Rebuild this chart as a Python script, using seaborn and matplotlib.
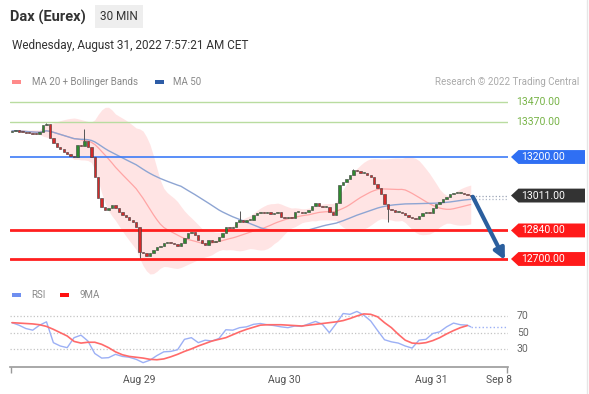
import numpy as np
import pandas as pd
import matplotlib.pyplot as plt
import seaborn as sns
from matplotlib.patches import Polygon, Rectangle
from matplotlib.transforms import blended_transform_factory

# 30 min closes, Dax future
closes = [13328, 13330, 13325, 13323, 13320, 13318, 13315, 13313, 13323, 13357,
          13362, 13293, 13269, 13249, 13240, 13225, 13215, 13205, 13200, 13259,
          13254, 13279, 13249, 13200, 13102, 12999, 12955, 12940, 12950, 12965,
          12950, 12931, 12916, 12906, 12891, 12881, 12857, 12734, 12730, 12715,
          12730, 12744, 12759, 12764, 12779, 12783, 12777, 12774, 12764, 12779,
          12803, 12828, 12833, 12818, 12793, 12779, 12769, 12793, 12784, 12789,
          12808, 12828, 12857, 12852, 12857, 12881, 12891, 12881, 12891, 12891,
          12916, 12926, 12930, 12924, 12928, 12921, 12925, 12929, 12906, 12901,
          12906, 12901, 12931, 12931, 12926, 12931, 12940, 12960, 12975, 12960,
          12955, 12955, 12931, 12916, 12975, 13063, 13078, 13093, 13112, 13137,
          13132, 13122, 13122, 13112, 13102, 13068, 13048, 13019, 12970, 12945,
          12940, 12931, 12931, 12926, 12916, 12906, 12901, 12896, 12911, 12926,
          12931, 12926, 12950, 12970, 12980, 12994, 13004, 13019, 13024, 13024,
          13024, 13019, 13014, 13011]
first_open = 13325
wick_high = {10: 13366, 21: 13338, 66: 12935, 99: 13142}
wick_low = {37: 12705, 109: 12882}

# RSI and its 9MA, sampled every second bar
rsi = [62, 59, 55, 53, 59, 63, 38, 34, 32, 44, 47, 40, 25, 19.5, 20, 24, 21.5,
       20.5, 18, 14, 17, 22.5, 27, 27.5, 29.5, 42, 44, 38, 41, 40, 43, 53.5, 53,
       56, 57, 60, 61, 59.5, 58.5, 57, 56, 58, 57.5, 60.5, 63.5, 60, 50, 61, 73,
       72, 75.5, 71, 64, 52.5, 41.5, 39, 37.5, 34, 31.5, 41, 42, 49, 51, 57, 61.5,
       59.5, 59]
rsi_ma = [62, 61.5, 61, 60.5, 59.5, 57.5, 54, 50, 46, 39.5, 37.5, 38.5, 38.5, 36,
          32, 27, 23.5, 21.5, 20.5, 19.5, 18, 17.5, 18.5, 21, 24, 27.5, 30.5, 34,
          37, 40, 42, 44, 47.5, 51, 54, 56.5, 59, 59.5, 59.5, 59.5, 59, 58.5, 58,
          59, 60, 61, 62, 63, 64.5, 67, 70, 72.5, 72, 69, 62, 56, 48, 41, 37.5, 37,
          38, 40.5, 44, 48.5, 52.5, 56, 58.5]
rsi_last = 57

levels = [13470, 13370, 13200, 12840, 12700]
level_colors = ['#b9dca0', '#b9dca0', '#3d7bf7', '#ff1f1f', '#ff1f1f']
level_widths = [1, 1, 1.2, 2, 2]
day_ticks = [37, 79, 121.6, 141.2]
day_labels = ['Aug 29', 'Aug 30', 'Aug 31', 'Sep 8']

df = pd.DataFrame({'close': closes})
df['open'] = [first_open] + closes[:-1]
df['bar'] = np.arange(len(df))
df['ma20'] = df['close'].rolling(20, min_periods=1).mean()
sd = df['close'].rolling(20, min_periods=1).std(ddof=0).fillna(0)
df['up'] = df['ma20'] + 2 * sd
df['lo'] = df['ma20'] - 2 * sd
df['ma50'] = df['close'].rolling(50, min_periods=1).mean()

sns.set_theme(style='white')
plt.rcParams['font.family'] = ['Roboto', 'DejaVu Sans']

fig = plt.figure(figsize=(5.89, 3.94), dpi=100)
W, H = 589, 394
ax = fig.add_axes([10 / W, 1 - 280 / H, 498 / W, 185 / H])
ax2 = fig.add_axes([10 / W, 1 - 367 / H, 498 / W, 68 / H])
xlim = (-0.58, 143.8)

# ---- price panel ----
ax.fill_between(df['bar'], df['lo'], df['up'], color='#ffe0e0', alpha=0.85, lw=0, zorder=1)
sns.lineplot(x=df['bar'], y=df['ma20'], ax=ax, color='#ffa5a5', lw=0.9, zorder=2)
sns.lineplot(x=df['bar'], y=df['ma50'], ax=ax, color='#8ea5d3', lw=1.0, zorder=2)

for lv, c, w in zip(levels, level_colors, level_widths):
    ax.axhline(lv, color=c, lw=w, zorder=3)

body = (df['close'] - df['open']).abs().clip(lower=4)
bottom = df[['open', 'close']].min(axis=1)
cols = np.where(df['close'] >= df['open'], '#2f8a2f', '#d42a2a')
for b, hi in wick_high.items():
    ax.vlines(b, max(df['open'][b], df['close'][b]), hi, color='#555', lw=0.7, zorder=4)
for b, lo in wick_low.items():
    ax.vlines(b, lo, min(df['open'][b], df['close'][b]), color='#555', lw=0.7, zorder=4)
ax.bar(df['bar'], body, bottom=bottom, width=0.7, color=cols, edgecolor='#3a3a3a',
       linewidth=0.4, zorder=5)

last = closes[-1]
ax.plot([df['bar'].iloc[-1] + 0.5, xlim[1]], [last, last], color='#9aa3b5', ls=':', lw=0.9)
ax.plot([df['bar'].iloc[-1] + 0.5, xlim[1]], [df['ma50'].iloc[-1]] * 2, color='#b0b8c8', ls=':', lw=0.9)

ax.annotate('', xy=(142.9, 12695), xytext=(133.6, 13005),
            arrowprops=dict(arrowstyle='-|>', color='#2b5f9e', lw=3, mutation_scale=16,
                            shrinkA=0, shrinkB=0), zorder=6)

ax.set_xlim(*xlim)
ax.set_ylim(12597, 13504)
ax.set_xticks([])
ax.set_yticks([])
for s in ax.spines.values():
    s.set_visible(False)
ax.set_xlabel('')
ax.set_ylabel('')
ax.patch.set_alpha(0)

trans = blended_transform_factory(ax.transAxes, ax.transData)


def tag(y, text, fc):
    h = 34
    pts = [(1.006, y), (1.021, y + h), (1.1546, y + h), (1.1546, y - h), (1.021, y - h)]
    ax.add_patch(Polygon(pts, closed=True, transform=trans, clip_on=False, fc=fc, ec='none'))
    ax.text(1.0703, y, text, transform=trans, color='white', ha='center', va='center',
            fontsize=7.5, clip_on=False)


for lv in levels[:2]:
    ax.text(1.0162, lv, f'{lv:.2f}', transform=trans, color='#77b347', ha='left',
            va='center', fontsize=7.5, clip_on=False)
tag(13200, '13200.00', '#2f6ff3')
tag(last, f'{last:.2f}', '#333333')
tag(12840, '12840.00', '#ff1a1a')
tag(12700, '12700.00', '#ff1a1a')

# ---- RSI panel ----
rbars = np.arange(0, len(rsi) * 2, 2)
for v in (70, 50, 30):
    ax2.axhline(v, color='#c4c4c4', ls=':', lw=0.9)
    ax2.text(1.018, v, str(v), transform=ax2.get_yaxis_transform(), color='#666',
             ha='left', va='center', fontsize=7.5)
sns.lineplot(x=list(rbars) + [133], y=rsi + [rsi_last], ax=ax2, color='#9cb0f5', lw=1.0)
sns.lineplot(x=rbars, y=rsi_ma, ax=ax2, color='#ff6a6a', lw=1.2)
ax2.plot([133, xlim[1]], [rsi_last, rsi_last], color='#9cb0f5', ls=':', lw=1.0)

ax2.set_xlim(*xlim)
ax2.set_ylim(8.8, 90.4)
ax2.set_yticks([])
ax2.set_xticks([xlim[0] + 0.3, xlim[1] - 0.3])
ax2.set_xticklabels([])
ax2.tick_params(axis='x', direction='out', length=4, width=1, color='#999', bottom=True)
ax2.set_xticks(day_ticks, minor=True)
ax2.set_xticklabels(day_labels, minor=True, fontsize=7.5, color='#555')
ax2.tick_params(axis='x', which='minor', length=0, pad=6)
for k in ('top', 'left', 'right'):
    ax2.spines[k].set_visible(False)
ax2.spines['bottom'].set_color('#999')
ax2.spines['bottom'].set_linewidth(1.2)
ax2.set_xlabel('')
ax2.set_ylabel('')
ax2.patch.set_alpha(0)

# ---- header and legends ----
fig.text(10 / W, 1 - 17 / H, 'Dax (Eurex)', fontsize=10.5, weight='bold', color='#333',
         va='center')
fig.patches.append(Rectangle((95 / W, 1 - 28 / H), 48 / W, 23 / H, transform=fig.transFigure,
                             fc='#eeeeee', ec='none'))
fig.text(119 / W, 1 - 16 / H, '30 MIN', fontsize=8.5, color='#333', ha='center', va='center')
fig.text(12 / W, 1 - 45 / H, 'Wednesday, August 31, 2022 7:57:21 AM CET', fontsize=8.5,
         color='#333', va='center')


def swatch(x, y, c):
    fig.patches.append(Rectangle((x / W, 1 - (y + 2) / H), 9 / W, 4 / H,
                                 transform=fig.transFigure, fc=c, ec='none'))


swatch(12, 82, '#ff8a8a')
fig.text(32 / W, 1 - 82 / H, 'MA 20 + Bollinger Bands', fontsize=7, color='#888', va='center')
swatch(155, 82, '#2d5ca6')
fig.text(173 / W, 1 - 82 / H, 'MA 50', fontsize=7, color='#888', va='center')
fig.text(579 / W, 1 - 82 / H, 'Research © 2022 Trading Central', fontsize=7, color='#aaa',
         ha='right', va='center')
swatch(12, 295, '#6f8ff0')
fig.text(31 / W, 1 - 295 / H, 'RSI', fontsize=7, color='#888', va='center')
swatch(60, 295, '#ff1111')
fig.text(79 / W, 1 - 295 / H, '9MA', fontsize=7, color='#888', va='center')

fig.lines.append(plt.Line2D([587 / W, 587 / W], [0, 1], transform=fig.transFigure,
                            color='#e6e6e6', lw=1))

fig.savefig('out.png', dpi=100)
